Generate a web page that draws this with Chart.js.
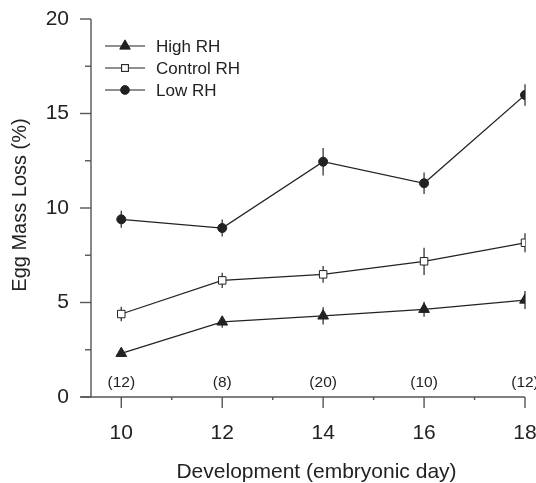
<!DOCTYPE html>
<html><head><meta charset="utf-8">
<script src="https://cdn.jsdelivr.net/npm/chart.js@4/dist/chart.umd.min.js"></script>
<style>html,body{margin:0;padding:0;background:#fff;}#wrap{width:536px;height:483px;}</style>
</head><body><div id="wrap"><canvas id="c" width="536" height="483"></canvas></div>
<script>
// ---- data ----
const days = [10, 12, 14, 16, 18];
const highRH = [2.31, 3.97, 4.29, 4.64, 5.13];
const highErr = [0.15, 0.3, 0.46, 0.4, 0.48];
const controlRH = [4.39, 6.17, 6.49, 7.18, 8.16];
const controlErr = [0.38, 0.4, 0.44, 0.72, 0.5];
const lowRH = [9.40, 8.94, 12.45, 11.31, 15.98];
const lowErr = [0.45, 0.45, 0.73, 0.57, 0.57];
const sampleSizes = ['(12)', '(8)', '(20)', '(10)', '(12)'];
const yTicks = [0, 5, 10, 15, 20];
const yMinorTicks = [2.5, 7.5, 12.5, 17.5];
const xTicks = [10, 12, 14, 16, 18];
const xMinorTicks = [11, 13, 15, 17];
const seriesNames = ['High RH', 'Control RH', 'Low RH'];
const xTitle = 'Development (embryonic day)';
const yTitle = 'Egg Mass Loss (%)';

const FONT = "'Liberation Sans', Arial, sans-serif";
const INK = '#222';
const AXIS = '#555';

function pts(vals) { return days.map((d, i) => ({ x: d, y: vals[i] })); }

const errs = [highErr, controlErr, lowErr];
const styles = [
  { pointStyle: 'triangle', radius: 6.2, bg: INK },
  { pointStyle: 'rect', radius: 5.3, bg: '#fff' },
  { pointStyle: 'circle', radius: 4.5, bg: INK }
];

const datasets = [highRH, controlRH, lowRH].map((v, i) => ({
  label: seriesNames[i],
  data: pts(v),
  borderColor: INK,
  borderWidth: 1.2,
  pointStyle: styles[i].pointStyle,
  pointRadius: styles[i].radius,
  pointBackgroundColor: styles[i].bg,
  pointBorderColor: INK,
  pointBorderWidth: 1,
  tension: 0,
  fill: false
}));

const customDraw = {
  id: 'customDraw',
  beforeDatasetsDraw(chart) {
    const ctx = chart.ctx, xs = chart.scales.x, ys = chart.scales.y;
    ctx.save();
    ctx.strokeStyle = '#444';
    ctx.lineWidth = 1.4;
    errs.forEach((e, si) => {
      const vals = [highRH, controlRH, lowRH][si];
      days.forEach((d, i) => {
        const px = xs.getPixelForValue(d);
        ctx.beginPath();
        ctx.moveTo(px, ys.getPixelForValue(vals[i] - e[i]));
        ctx.lineTo(px, ys.getPixelForValue(vals[i] + e[i]));
        ctx.stroke();
      });
    });
    ctx.restore();
  },
  afterDraw(chart) {
    const ctx = chart.ctx, xs = chart.scales.x, ys = chart.scales.y;
    const ca = chart.chartArea;
    ctx.save();
    ctx.strokeStyle = AXIS;
    ctx.lineWidth = 1.4;
    ctx.beginPath();
    ctx.moveTo(ca.left, ys.getPixelForValue(20));
    ctx.lineTo(ca.left, ys.getPixelForValue(0));
    ctx.stroke();
    const y0 = ys.getPixelForValue(0);
    ctx.beginPath();
    ctx.moveTo(ca.left - 10.5, y0);
    ctx.lineTo(xs.getPixelForValue(18), y0);
    ctx.stroke();
    yTicks.forEach(v => {
      const py = ys.getPixelForValue(v);
      ctx.beginPath(); ctx.moveTo(ca.left - 11, py); ctx.lineTo(ca.left, py); ctx.stroke();
    });
    yMinorTicks.forEach(v => {
      const py = ys.getPixelForValue(v);
      ctx.beginPath(); ctx.moveTo(ca.left - 6, py); ctx.lineTo(ca.left, py); ctx.stroke();
    });
    xTicks.forEach(v => {
      const px = xs.getPixelForValue(v);
      ctx.beginPath(); ctx.moveTo(px, y0); ctx.lineTo(px, y0 + 11); ctx.stroke();
    });
    xMinorTicks.forEach(v => {
      const px = xs.getPixelForValue(v);
      ctx.beginPath(); ctx.moveTo(px, y0); ctx.lineTo(px, y0 + 3); ctx.stroke();
    });
    ctx.fillStyle = INK;
    ctx.font = '15.5px ' + FONT;
    ctx.textAlign = 'center';
    ctx.textBaseline = 'middle';
    days.forEach((d, i) => {
      ctx.fillText(sampleSizes[i], xs.getPixelForValue(d), ys.getPixelForValue(0.74));
    });
    // axis titles
    ctx.font = '21px ' + FONT;
    ctx.textBaseline = 'alphabetic';
    ctx.fillText(xTitle, 316.5, 478);
    ctx.save();
    ctx.translate(20, 205);
    ctx.rotate(-Math.PI / 2);
    ctx.font = '20px ' + FONT;
    ctx.textBaseline = 'middle';
    ctx.fillText(yTitle, 0, 0);
    ctx.restore();
    // legend
    const lx0 = 105, lx1 = 145, mx = 125, tx = 156;
    const rows = [46, 68, 90];
    ctx.font = '17px ' + FONT;
    ctx.textAlign = 'left';
    ctx.textBaseline = 'middle';
    rows.forEach((ry, i) => {
      ctx.strokeStyle = INK; ctx.lineWidth = 1.2;
      ctx.beginPath(); ctx.moveTo(lx0, ry); ctx.lineTo(lx1, ry); ctx.stroke();
      Chart.helpers.drawPoint(ctx, {
        pointStyle: styles[i].pointStyle, radius: styles[i].radius * 0.9, rotation: 0, borderWidth: 1
      }, mx, ry);
      ctx.fillStyle = styles[i].bg; ctx.strokeStyle = INK; ctx.lineWidth = 1;
      ctx.fill(); ctx.stroke();
      ctx.fillStyle = INK;
      ctx.fillText(seriesNames[i], tx, ry + 1);
    });
    ctx.restore();
  }
};

new Chart(document.getElementById('c'), {
  type: 'line',
  data: { datasets },
  options: {
    responsive: false,
    animation: false,
    devicePixelRatio: 1,
    layout: { padding: { left: 0, right: 11, top: 19, bottom: 0 } },
    plugins: { legend: { display: false }, tooltip: { enabled: false } },
    scales: {
      x: {
        type: 'linear', min: 9.4, max: 18,
        grid: { display: false, drawTicks: false },
        border: { display: false },
        afterBuildTicks(s) { s.ticks = xTicks.map(v => ({ value: v })); },
        afterFit(s) { s.height = 86; s.paddingLeft = 0; s.paddingRight = 0; },
        ticks: { color: INK, font: { family: FONT, size: 21 }, padding: 24, maxRotation: 0 },
        title: { display: false }
      },
      y: {
        min: 0, max: 20,
        grid: { display: false, drawTicks: false },
        border: { display: false },
        afterBuildTicks(s) { s.ticks = yTicks.map(v => ({ value: v })); },
        afterFit(s) { s.width = 91; s.paddingTop = 0; s.paddingBottom = 0; },
        ticks: { color: INK, font: { family: FONT, size: 21 }, padding: 22 },
        title: { display: false }
      }
    }
  },
  plugins: [customDraw]
});
</script>
</body></html>
